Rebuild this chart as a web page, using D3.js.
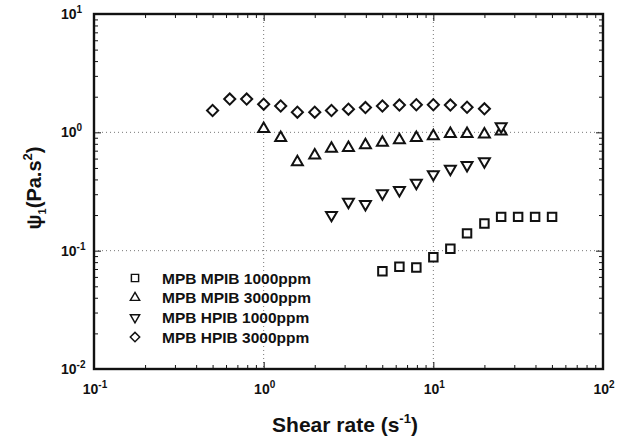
<!DOCTYPE html>
<html>
<head>
<meta charset="utf-8">
<script src="https://cdn.jsdelivr.net/npm/d3@7"></script>
<style>
  html, body { margin: 0; padding: 0; background: #fff; }
  svg text { font-family: "Liberation Sans", Arial, sans-serif; fill: #111; }
</style>
</head>
<body>
<svg id="chart" width="626" height="443"></svg>
<script>
// First normal stress coefficient vs shear rate
const xTickExps = [-1, 0, 1, 2];
const yTickExps = [-2, -1, 0, 1];

const seriesNames = [
  "MPB MPIB 1000ppm",
  "MPB MPIB 3000ppm",
  "MPB HPIB 1000ppm",
  "MPB HPIB 3000ppm"
];

const mpib1000Rate = [5.01, 6.31, 7.94, 10.0, 12.6, 15.8, 20.0, 25.1, 31.6, 39.8, 50.1];
const mpib1000Psi  = [0.067, 0.073, 0.072, 0.088, 0.104, 0.140, 0.170, 0.193, 0.193, 0.193, 0.193];

const mpib3000Rate = [1.0, 1.26, 1.58, 2.0, 2.51, 3.16, 3.98, 5.01, 6.31, 7.94, 10.0, 12.6, 15.8, 20.0, 25.1];
const mpib3000Psi  = [1.07, 0.90, 0.56, 0.64, 0.73, 0.74, 0.78, 0.82, 0.86, 0.90, 0.93, 0.97, 0.97, 0.96, 1.02];

const hpib1000Rate = [2.51, 3.16, 3.98, 5.01, 6.31, 7.94, 10.0, 12.6, 15.8, 20.0, 25.1];
const hpib1000Psi  = [0.20, 0.258, 0.247, 0.304, 0.324, 0.373, 0.442, 0.49, 0.527, 0.569, 1.12];

const hpib3000Rate = [0.5, 0.631, 0.794, 1.0, 1.26, 1.58, 2.0, 2.51, 3.16, 3.98, 5.01, 6.31, 7.94, 10.0, 12.6, 15.8, 20.0];
const hpib3000Psi  = [1.53, 1.91, 1.91, 1.73, 1.67, 1.48, 1.48, 1.53, 1.57, 1.62, 1.67, 1.70, 1.71, 1.71, 1.70, 1.63, 1.58];

const series = [
  { name: seriesNames[0], x: mpib1000Rate, y: mpib1000Psi, shape: "square" },
  { name: seriesNames[1], x: mpib3000Rate, y: mpib3000Psi, shape: "up" },
  { name: seriesNames[2], x: hpib1000Rate, y: hpib1000Psi, shape: "down" },
  { name: seriesNames[3], x: hpib3000Rate, y: hpib3000Psi, shape: "diamond" }
];

const svg = d3.select("#chart");
const plotL = 94, plotR = 603, plotT = 14, plotB = 369;

const x = d3.scaleLog().domain([0.1, 100]).range([plotL, plotR]);
const y = d3.scaleLog().domain([0.01, 10]).range([plotB, plotT]);

// Dotted grid at interior decades
const grid = svg.append("g").attr("stroke", "#777").attr("stroke-width", 1)
  .attr("stroke-dasharray", "1,3");
[1, 10].forEach(v => grid.append("line")
  .attr("x1", x(v)).attr("x2", x(v)).attr("y1", plotT).attr("y2", plotB));
[0.1, 1].forEach(v => grid.append("line")
  .attr("x1", plotL).attr("x2", plotR).attr("y1", y(v)).attr("y2", y(v)));

// Minor + major tick values
function logTicks(lo, hi) {
  const out = [];
  for (let e = lo; e < hi; e++) for (let m = 1; m < 10; m++) out.push(m * Math.pow(10, e));
  out.push(Math.pow(10, hi));
  return out;
}
const xt = logTicks(-1, 2), yt = logTicks(-2, 1);
const isMajor = v => Math.abs(Math.log10(v) - Math.round(Math.log10(v))) < 1e-9;

function drawAxis(axisFn, scale, vals, tr) {
  const g = svg.append("g").attr("transform", tr)
    .call(axisFn(scale).tickValues(vals).tickFormat("").tickSizeOuter(0)
      .tickSizeInner(0));
  g.select(".domain").remove();
  g.selectAll(".tick line")
    .attr("stroke", "#111").attr("stroke-width", 1);
  return g;
}
const tickLen = v => isMajor(v) ? 7 : 4;
// inward ticks on all four sides
drawAxis(d3.axisBottom, x, xt, `translate(0,${plotB})`).selectAll(".tick line")
  .attr("y2", d => -tickLen(d));
drawAxis(d3.axisTop, x, xt, `translate(0,${plotT})`).selectAll(".tick line")
  .attr("y2", d => tickLen(d));
drawAxis(d3.axisLeft, y, yt, `translate(${plotL},0)`).selectAll(".tick line")
  .attr("x2", d => tickLen(d));
drawAxis(d3.axisRight, y, yt, `translate(${plotR},0)`).selectAll(".tick line")
  .attr("x2", d => -tickLen(d));

// Frame
svg.append("rect").attr("x", plotL).attr("y", plotT)
  .attr("width", plotR - plotL).attr("height", plotB - plotT)
  .attr("fill", "none").attr("stroke", "#111").attr("stroke-width", 2.4);

// Tick labels with superscript exponents
function powerLabel(sel, e) {
  sel.append("tspan").text("10");
  sel.append("tspan").attr("dy", -6).attr("font-size", 10).text(e < 0 ? "-" + (-e) : e);
}
xTickExps.forEach(e => {
  const t = svg.append("text").attr("x", x(Math.pow(10, e)) + 1).attr("y", 394)
    .attr("text-anchor", "middle").attr("font-size", 14).attr("font-weight", "bold");
  powerLabel(t, e);
});
yTickExps.forEach(e => {
  const t = svg.append("text").attr("x", 61).attr("y", y(Math.pow(10, e)) + 5)
    .attr("font-size", 14).attr("font-weight", "bold");
  powerLabel(t, e);
});

// Axis titles
const xt1 = svg.append("text").attr("x", 345).attr("y", 432).attr("text-anchor", "middle")
  .attr("font-size", 21).attr("font-weight", "bold");
xt1.append("tspan").text("Shear rate (s");
xt1.append("tspan").attr("dy", -9).attr("font-size", 13).text("-1");
xt1.append("tspan").attr("dy", 9).text(")");

const yt1 = svg.append("text").attr("transform", "translate(41,188) rotate(-90)")
  .attr("text-anchor", "middle").attr("font-size", 20).attr("font-weight", "bold");
yt1.append("tspan").text("ψ");
yt1.append("tspan").attr("dy", 5).attr("font-size", 11).text("1");
yt1.append("tspan").attr("dy", -5).text("(Pa.s");
yt1.append("tspan").attr("dy", -9).attr("font-size", 13).text("2");
yt1.append("tspan").attr("dy", 9).text(")");

// Marker shapes
function markerPath(shape) {
  if (shape === "square") return d3.symbol(d3.symbolSquare, 72)();
  if (shape === "diamond") return d3.symbol(d3.symbolSquare, 62)();
  return d3.symbol(d3.symbolTriangle, 52)();
}
function markerRotate(shape) {
  if (shape === "diamond") return 45;
  if (shape === "down") return 180;
  return 0;
}

series.forEach(s => {
  svg.append("g").selectAll("path")
    .data(s.x.map((v, i) => [v, s.y[i]]))
    .join("path")
    .attr("d", markerPath(s.shape))
    .attr("transform", d => `translate(${x(d[0])},${y(d[1])}) rotate(${markerRotate(s.shape)})`)
    .attr("fill", "#fff").attr("stroke", "#111").attr("stroke-width", 2);
});

// Legend
const legend = svg.append("g");
series.forEach((s, i) => {
  const ly = 278 + i * 19.7;
  legend.append("path").attr("d", markerPath(s.shape))
    .attr("transform", `translate(135,${ly}) rotate(${markerRotate(s.shape)}) scale(0.85)`)
    .attr("fill", "#fff").attr("stroke", "#111").attr("stroke-width", 1.7);
  legend.append("text").attr("x", 162).attr("y", ly + 5.5)
    .attr("font-size", 15.5).attr("font-weight", "bold").text(s.name);
});
</script>
</body>
</html>
